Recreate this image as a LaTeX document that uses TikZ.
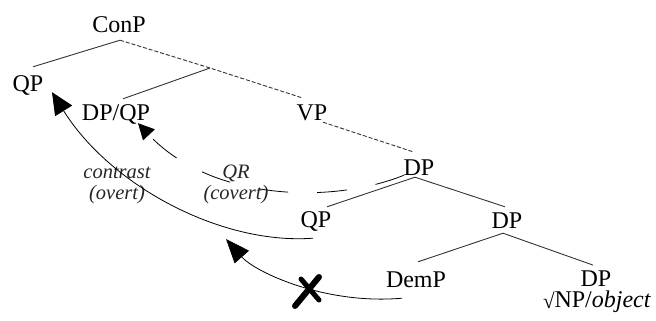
\documentclass[tikz,border=0pt]{standalone}
\usepackage{fontspec}
\setmainfont{Liberation Serif}
\usetikzlibrary{arrows.meta,calc}
\begin{document}
\begin{tikzpicture}[x=1pt,y=-1pt,
  cat/.style={anchor=base,inner sep=3pt,text height=17pt,text depth=0pt,font=\fontsize{24}{26}\selectfont},
  lab/.style={anchor=base,inner sep=0pt,font=\fontsize{20.5}{22}\selectfont\itshape,text=black!85},
  edge/.style={draw=black!80,line width=0.9pt},
  dotedge/.style={edge,dash pattern=on 4pt off 2pt},
  mv/.style={draw=black,line width=0.8pt},
]
\useasboundingbox (0,0) rectangle (656,321);
% tree nodes
\node[cat] (conp) at (119,33) {ConP};
\node[cat] (qp1) at (28,92) {QP};
\node[cat] (dpqp) at (116,120) {DP/QP};
\node[cat] (vp) at (312,120) {VP};
\node[cat] (dp1) at (419,175) {DP};
\node[cat] (qp2) at (316,227) {QP};
\node[cat] (dp2) at (507,228) {DP};
\node[cat] (demp) at (416,287) {DemP};
\node[anchor=base,inner sep=0pt,align=center,font=\fontsize{24}{21}\selectfont] (dp3) at (597,307) {\hspace*{-2pt}DP\\\raisebox{-1.5pt}{\fontsize{21}{21}\selectfont √}NP/\textit{object}};
\coordinate (vbar) at (210,68);
% edges
\draw[edge] ($(conp.south)+(1,4)$) -- ($(qp1.north)+(5,-5)$);
\draw[dotedge] ($(conp.south)+(1,4)$) -- (vbar) -- ($(vp.north)+(-10,-2)$);
\draw[edge] (vbar) -- ($(dpqp.north)+(7,-1)$);
\draw[dotedge] ($(vp.south)+(11,-1)$) -- ($(dp1.north)+(-6,-3)$);
\draw[edge] ($(dp1.south)+(-4,-1)$) -- ($(qp2.north)+(11,0)$);
\draw[edge] ($(dp1.south)+(-4,-1)$) -- ($(dp2.north)+(-2,-1)$);
\draw[edge] ($(dp2.south)+(-4,2)$) -- ($(demp.north)+(2,-5)$);
\draw[edge] ($(dp2.south)+(-4,2)$) -- ($(dp3.north)+(-4,-5)$);
% labels
\node[lab] (con) at (117,178) {contrast};
\node[lab] (ovt) at (117,199) {(overt)};
\node[lab] (qr) at (236,178) {QR};
\node[lab] (cov) at (236,199) {(covert)};
% movement arrows
\coordinate (cs) at ($(qp2.south)+(-3,8)$);
\coordinate (ce) at ($(qp1.south)+(24,-3)$);
\draw[mv,-{Triangle[length=22pt,width=20pt]}] (cs) .. controls (220,245) and (110,185) .. (ce);
\coordinate (qs) at ($(dp1.south)+(-15,-3)$);
\coordinate (qe) at ($(dpqp.south)+(22,0)$);
\draw[mv,dash pattern=on 30pt off 29pt,-{Triangle[length=16pt,width=16pt]}] (qs) .. controls (330,205) and (210,200) .. (qe);
\coordinate (xs) at ($(demp.south)+(-14,8)$);
\coordinate (xe) at (226,239);
\draw[mv,-{Triangle[length=24pt,width=19pt]}] (xs) .. controls (325,305) and (255,272) .. (xe);
% the cross
\draw[line width=6pt,line cap=round] (295,306) -- (319,277);
\draw[line width=5pt,line cap=round] (301,279) -- (319,300);
\end{tikzpicture}
\end{document}
